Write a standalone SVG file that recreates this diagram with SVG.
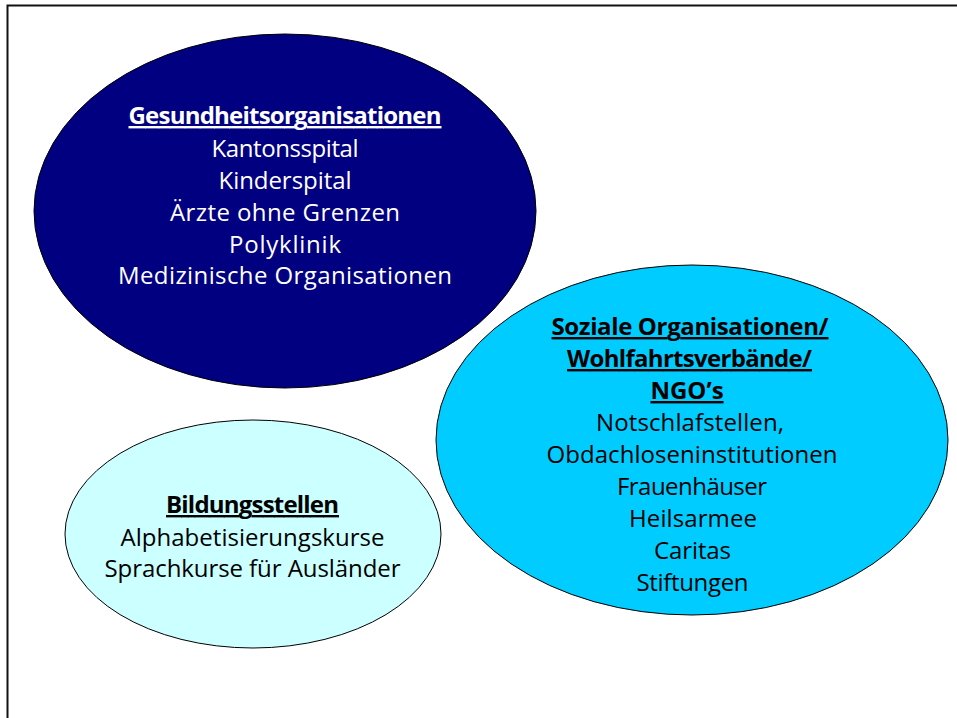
<svg xmlns="http://www.w3.org/2000/svg" width="957" height="718" viewBox="0 0 957 718">
<style>
  .e { stroke: #000; stroke-width: 1; }
  .t { font-family: "Open Sans", "Liberation Sans", sans-serif; font-size: 24px; text-anchor: middle; }
  .h { font-weight: bold; text-decoration: underline; }
  .w { fill: #fff; }
  .k { fill: #000; }
</style>
<rect x="0" y="0" width="957" height="718" fill="#fff"/>
<path d="M7.5 720 V5.5 H960" fill="none" stroke="#111" stroke-width="2"/>
<g id="gesundheit">
  <ellipse class="e" cx="285" cy="211" rx="251" ry="177" fill="#000080"/>
  <text class="t w h" x="285" y="124" textLength="313">Gesundheitsorganisationen</text>
  <text class="t w" x="285" y="157" textLength="147">Kantonsspital</text>
  <text class="t w" x="285" y="189" textLength="133">Kinderspital</text>
  <text class="t w" x="285" y="221" textLength="230">Ärzte ohne Grenzen</text>
  <text class="t w" x="285" y="253" textLength="112">Polyklinik</text>
  <text class="t w" x="285" y="284" textLength="334">Medizinische Organisationen</text>
</g>
<g id="bildung">
  <ellipse class="e" cx="253" cy="534" rx="188" ry="114" fill="#CCFFFF"/>
  <text class="t k h" x="252.5" y="513" textLength="173">Bildungsstellen</text>
  <text class="t k" x="252.5" y="546" textLength="264">Alphabetisierungskurse</text>
  <text class="t k" x="252.5" y="577" textLength="296">Sprachkurse für Ausländer</text>
</g>
<g id="sozial">
  <ellipse class="e" cx="692" cy="440" rx="256" ry="175" fill="#00CCFF"/>
  <text class="t k h" x="690" y="335" textLength="277">Soziale Organisationen/</text>
  <text class="t k h" x="689.5" y="367" textLength="245">Wohlfahrtsverbände/</text>
  <text class="t k h" x="687" y="399">NGO’s</text>
  <text class="t k" x="690" y="431" textLength="188">Notschlafstellen,</text>
  <text class="t k" x="692" y="463" textLength="291">Obdachloseninstitutionen</text>
  <text class="t k" x="692" y="495" textLength="150">Frauenhäuser</text>
  <text class="t k" x="693" y="527" textLength="128">Heilsarmee</text>
  <text class="t k" x="692.5" y="559" textLength="77">Caritas</text>
  <text class="t k" x="692.5" y="591" textLength="112">Stiftungen</text>
</g>
<g id="connectors"></g>
</svg>
